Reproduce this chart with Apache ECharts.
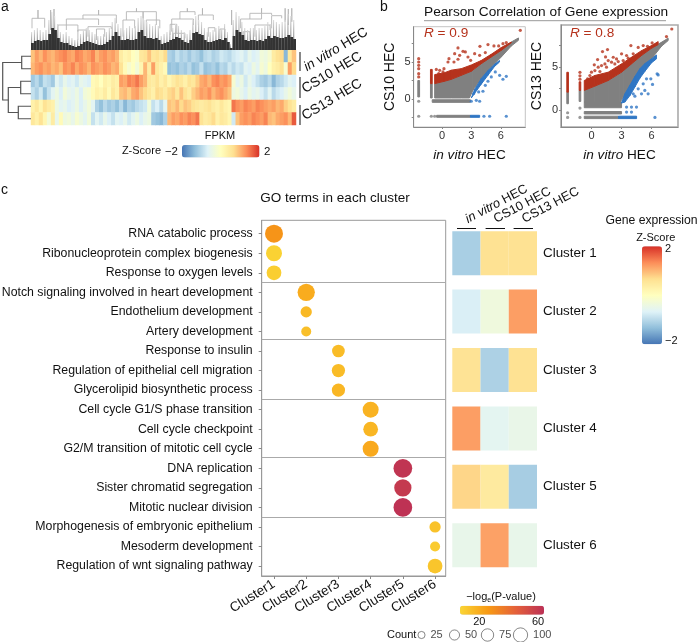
<!DOCTYPE html>
<html><head><meta charset="utf-8">
<style>html,body{margin:0;padding:0;background:#fff}#c{width:698px;height:642px}</style>
<script src="https://cdn.jsdelivr.net/npm/echarts@6/dist/echarts.min.js"></script>
</head><body><div id="c"></div>
<script>
const FONT='"Liberation Sans",Arial,sans-serif';
const zColors=['#4575b4','#91bfdb','#e0f3f8','#ffffbf','#fee090','#fc8d59','#d73027'];
const pColors=['#FAD535','#F89A14','#E4603A','#BC3055'];

/* ---------- panel a ---------- */
const heatRows=['in vitro 1','in vitro 2','CS10 1','CS10 2','CS13 1','CS13 2'];
const heatR1=[0.9,1.2,1.0,1.3,1.1,1.0,1.2,1.3,1.4,1.2,1.1,1.4,1.3,1.1,1.2,1.4,1.0,1.2,1.3,1.1,1.2,1.0,0.4,0.2,0.3,0.0,-0.1,0.5,0.6,0.9,0.5,0.6,0.4,0.7,-1.1,-1.2,-0.9,-1.1,-1.0,-1.2,-1.0,-1.1,-1.3,-1.0,-0.9,-1.1,-1.0,-0.8,-0.9,-1.0,-0.8,-0.7,-0.6,-0.8,-0.5,-0.7,-0.6,-0.3,-0.4,-0.2,0.4,0.6,0.7,-1.4,0.5,0.9];
const heatR2=[1.0,1.2,1.3,1.1,1.2,1.0,1.1,0.9,1.3,1.2,1.4,1.1,1.3,1.2,1.0,1.3,1.2,1.1,1.3,1.2,1.0,1.1,0.6,0.1,-0.2,0.0,-0.3,0.2,1.0,0.4,1.2,0.5,0.3,0.1,-1.3,-1.2,-1.3,-1.1,-1.2,-1.0,-1.3,-1.2,-0.9,-1.3,-1.2,-1.1,-1.3,-1.0,-1.1,-0.8,-1.0,-0.8,-0.9,-0.6,-0.7,-0.4,-0.6,-0.2,-0.4,0.0,0.3,0.4,0.6,-0.2,1.2,0.7];
const heatR3=[-1.2,-1.0,-1.3,-0.9,-1.0,-1.2,-0.6,-0.8,-0.5,-0.7,-0.6,-0.8,-0.5,-0.6,-0.7,0.1,0.2,0.0,0.3,0.2,0.4,0.3,1.2,1.1,1.4,1.3,1.5,1.2,1.0,0.5,0.4,0.6,0.3,0.5,0.2,0.4,0.6,0.5,0.3,0.6,0.5,0.8,1.1,1.2,1.0,1.3,1.4,1.2,1.3,1.1,-0.2,-0.6,-0.4,-0.8,-0.5,-0.7,-0.9,-1.1,-1.2,-1.0,-1.4,-1.1,-1.0,-0.8,-0.6,-0.7];
const heatR4=[-0.9,-1.1,-0.8,-1.3,-0.9,-0.6,-0.4,-0.7,-0.3,-0.5,-0.6,-0.4,-0.7,-0.3,-0.2,0.1,0.3,0.2,0.4,0.1,0.5,0.3,0.9,1.0,0.8,1.1,1.2,0.9,0.7,0.5,0.3,0.7,0.6,0.4,0.7,0.8,0.5,0.9,0.6,0.4,0.8,1.0,1.2,1.1,1.3,1.0,1.2,1.3,1.1,0.9,-0.4,-0.3,-0.5,-0.7,-0.4,-0.6,-0.5,-0.7,-0.9,-0.6,-1.0,-0.8,-0.7,-0.5,-0.3,-0.5];
const heatR5=[0.3,0.5,0.2,0.6,0.4,0.3,-0.4,-0.6,-0.5,-0.7,-0.6,-0.4,-0.7,-0.5,-0.3,-0.6,-1.1,-1.3,-1.0,-1.2,-1.1,-1.3,-1.0,-1.4,-1.1,-1.2,-1.0,-0.9,-0.8,-0.3,-0.9,-0.7,-1.0,-0.6,0.9,0.8,1.0,0.7,0.9,0.8,0.6,0.5,0.4,0.5,0.6,0.4,0.3,0.5,0.3,0.2,1.5,1.3,1.2,1.4,1.3,1.2,1.4,1.3,1.2,1.1,1.2,1.0,1.1,0.8,0.6,0.4];
const heatR6=[0.5,0.3,0.6,0.2,-0.3,0.4,-0.5,0.1,-0.4,-0.3,-0.5,-0.2,-0.4,-0.6,-0.3,-0.9,-0.6,-0.8,-0.5,-0.7,-0.9,-0.6,-0.7,-0.5,-0.8,-0.6,-0.4,-0.7,-0.5,-0.4,-1.2,-1.3,-1.4,-1.1,1.0,1.2,1.1,1.3,1.2,1.4,1.3,1.5,0.6,0.4,0.5,0.7,0.3,0.5,0.4,0.2,-0.8,0.9,1.2,1.3,1.2,1.4,1.3,1.2,1.4,1.0,0.9,1.1,1.2,1.3,1.0,1.7];
const rowDendro=[[0,1,9.3,0,0],[2,3,10.3,0,0],[4,5,12.7,0,0],[2.5,4.5,22.7,10.3,12.7],[0.5,3.5,28.3,9.3,22.7]];
const colDendro=[[0.38,5.16,31.7,21.7,22.3],[2.64,2.64,40,31.7,31.7],[7.4,7.4,40,20,20],[8.68,8.68,41,20,20],[13.34,25.5,31,20,25],[19.6,32.2,35,31,26.7],[25.5,25.5,40,35,35],[10.2,17.7,25,11.7,18.3],[21.5,30.3,23.3,13.3,21],[17.7,20.9,20,10,11.7],[24.7,27.8,21,10,13.3],[34.7,39.1,30,13.3,21.7],[36,42.3,38.3,30,31.7],[39.8,39.8,41.7,38.3,38.3],[42.3,47.3,38.3,20,25],[43.5,48.6,30,15,21.7],[53.1,61.3,31,18.3,25],[56.2,61.9,38.3,31,35],[59,59,41.7,38.3,38.3],[63.15,68.8,35,25,30],[64.7,64.7,41.7,35,35],[52.5,55,25.7,15,16.7],[53.7,58.1,16.7,10,11.7],[66.9,69.4,22.3,13.3,18.3],[71.3,73.2,21,11.7,11.7],[79.1,87,31,21.7,36.7],[87,87,41.7,36.7,36.7],[82.6,90.8,36.7,31,35],[84.5,90.2,25,13.3,20],[80.1,82.6,18.3,8.3,10],[90.8,94.6,34.3,21.7,31.7],[75.7,75.7,40,25,25],[95.9,95.9,41.7,28.3,28.3],[97.1,97.1,41,25,25],[98.4,98.4,41.7,28.3,28.3]];
const dendroDark=[7,9,10,9,10,10,16,22,20,12,8,7,7,5,4,3,4,6,8,9,8,7,6,5,5,6,8,10,14,18,14,10,10,11,10,10,11,18,20,14,12,12,11,12,10,6,7,8,10,11,13,12,10,8,7,10,17,18,16,15,10,8,8,9,10,11,10,12,8,2,14,20,18,15,10,9,10,10,9,10,9,11,14,12,14,13,12,12,13,15,13,11];
const dendroHair=[18,20,22,20,18,20,30,38,34,26,18,16,18,14,12,10,12,16,20,22,20,18,16,14,14,16,18,22,28,32,26,22,20,22,24,22,24,32,34,30,28,26,24,26,24,14,16,18,20,22,26,24,20,18,16,20,30,34,30,28,22,18,18,20,22,24,22,26,18,6,30,38,34,28,22,20,22,22,20,22,22,24,28,26,30,28,26,28,30,36,34,30];

/* ---------- panel b: [x, low, high] envelopes and single points ---------- */
const s1GreyBand=[[-0.75,0.14,2.08],[0.95,0.14,2.66],[1.97,0.14,3.2],[2.8,0.14,3.65],[3.15,1.17,3.85],[4.0,2.75,4.77],[5.03,4.32,5.68],[6.05,5.68,6.58],[7.07,7.16,7.7],[7.8,7.93,8.25]];
const s1RedBand=[[-0.75,2.08,3.3],[0.25,2.4,3.55],[0.95,2.66,3.9],[1.97,3.2,4.1],[2.99,3.75,4.6],[4.0,4.77,5.2],[5.03,5.68,6.05],[6.05,6.58,6.95],[7.07,7.6,7.7]];
const s1BlueBand=[[2.99,0.14,0.14],[3.33,0.77,1.3],[4.0,2.0,2.75],[4.68,3.2,3.83],[5.36,4.4,4.7],[5.87,5.0,5.2]];
const s1GreyRows=[[[-1.0,-0.45,-0.1],[2.9,-0.45,-0.1]],[[-0.55,-2.47,-2.2],[2.9,-2.47,-2.2]],[[-2.47,0.28,2.5],[-2.29,0.28,2.5]],[[-1.18,0.14,2.08],[-1.0,0.14,2.08]]];
const s1RedCols=[[[-1.18,2.08,4.0],[-1.0,2.08,4.0]]];
const s1BlueRows=[[[2.9,-2.47,-2.2],[3.84,-2.47,-2.2]]];
const s1GreyDots=[[-2.38,-0.3],[-2.38,-2.33],[-1.09,-2.33],[-0.75,-2.33]];
const s1RedDots=[[7.99,9.28],[1.63,6.9],[3.87,7.12],[4.69,7.35],[0.71,5.45],[1.29,6.13],[2.14,6.45],[2.38,6.36],[1.8,5.9],[1.22,5.0],[1.63,5.37],[0.61,5.0],[2.65,5.68],[3.33,6.13],[3.84,5.9],[4.42,6.27],[5.3,7.17],[5.78,7.17],[6.22,7.48],[6.56,7.62],[2.92,5.23],[-0.24,3.88],[0.2,4.1],[-0.58,4.0],[-0.34,3.43],[0.1,3.66],[-2.38,5.45],[-2.38,5.0],[-2.38,4.55],[-2.38,4.1],[-2.38,3.43],[-2.38,2.98]];
const s1BlueDots=[[5.88,3.2],[6.56,3.07],[6.22,2.67],[5.44,3.66],[5.03,2.98],[4.69,2.4],[4.42,1.85],[4.18,1.05],[3.74,0.96],[3.5,-0.17],[3.84,-0.3],[2.99,-0.3],[3.23,0.73],[4.28,-2.33],[4.86,-2.33],[6.56,-2.33]];

const s2GreyBand=[[-0.72,0.95,2.3],[0.34,0.84,2.8],[1.67,0.84,3.45],[2.83,0.84,4.22],[3.16,1.53,4.6],[3.99,3.07,5.37],[4.99,4.6,6.34],[5.99,5.95,7.18],[6.98,7.41,7.87],[7.65,8.07,8.34]];
const s2RedBand=[[-0.72,2.3,3.45],[0.34,2.8,4.03],[1.67,3.45,4.41],[2.99,4.4,5.37],[3.99,5.37,6.14],[4.99,6.34,6.9],[5.99,7.18,7.49],[6.65,7.6,7.95]];
const s2BlueBand=[[2.99,0.84,0.84],[3.33,0.95,1.9],[3.83,1.7,2.9],[4.33,2.7,3.9],[4.82,3.7,4.8],[5.32,4.5,5.4],[5.99,5.5,5.95],[6.48,5.95,6.4]];
const s2GreyRows=[[[-0.72,0.3,0.95],[3.0,0.3,0.95]],[[-0.72,-0.42,-0.14],[3.0,-0.42,-0.14]],[[-0.72,-0.96,-0.68],[2.7,-0.96,-0.68]],[[-2.46,0.76,2.1],[-2.3,0.76,2.1]],[[-1.23,1.03,2.3],[-1.07,1.03,2.3]]];
const s2RedCols=[[[-2.46,2.1,4.4],[-2.3,2.1,4.4]],[[-1.23,2.3,3.3],[-1.07,2.3,3.3]]];
const s2BlueRows=[[[2.7,-0.96,-0.68],[4.5,-0.96,-0.68]]];
const s2GreyDots=[[-2.38,-0.28],[-2.38,-0.82],[-1.15,-0.82],[-1.15,0.26]];
const s2RedDots=[[8.01,9.41],[1.6,7.03],[1.1,6.8],[1.4,6.18],[0.61,5.87],[0.28,5.26],[1.0,5.18],[1.67,5.76],[2.17,6.14],[2.5,5.95],[3.0,6.53],[3.93,7.49],[4.66,7.28],[5.16,7.49],[5.59,7.41],[6.05,7.8],[7.48,8.53],[0.67,4.99],[1.34,5.37],[2.0,5.57],[2.67,5.64],[3.5,6.34],[4.16,6.53],[-0.16,4.03],[0,4.41],[-0.39,3.64],[0.34,4.6],[0.84,4.49],[1.5,4.99],[2.33,5.37],[3.16,5.76],[3.66,6.03],[-1.15,4.4],[-1.15,4.0],[-1.15,3.6]];
const s2BlueDots=[[6.55,4.22],[6.65,4.1],[5.92,3.64],[6.09,2.99],[5.32,2.3],[5.65,1.91],[4.99,1.91],[4.66,2.49],[5.16,3.07],[5.49,3.64],[4.33,1.64],[3.5,0.38],[3.99,0.38],[4.49,0.38],[3.5,-0.2],[3.99,-0.2],[4.16,1.91],[6.33,-0.82]];

/* ---------- panel c ---------- */
const goTerms=['RNA catabolic process','Ribonucleoprotein complex biogenesis','Response to oxygen levels','Notch signaling involved in heart development','Endothelium development','Artery development','Response to insulin','Regulation of epithelial cell migration','Glycerolipid biosynthetic process','Cell cycle G1/S phase transition','Cell cycle checkpoint','G2/M transition of mitotic cell cycle','DNA replication','Sister chromatid segregation','Mitotic nuclear division','Morphogenesis of embryonic epithelium','Mesoderm development','Regulation of wnt signaling pathway'];
const clusterTicks=['Cluster1','Cluster2','Cluster3','Cluster4','Cluster5','Cluster6'];
const goCluster=[0,0,0,1,1,1,2,2,2,3,3,3,4,4,4,5,5,5];
const goCount=[158,125,106,146,62,49,79,86,86,125,106,125,171,146,171,62,49,106];
const goLogP=[28,8,9,20,16,14,15,15,17,18,17,21,62,60,63,13,10,12];
const goDividers=[2.47,5.4,8.47,11.44,14.53];
const sampleNames=['in vitro HEC','CS10 HEC','CS13 HEC'];
const clusterNames=['Cluster 1','Cluster 2','Cluster 3','Cluster 4','Cluster 5','Cluster 6'];
const clusterZ=[[-1.13,0.62,0.62],[-0.72,-0.35,1.2],[0.6,-1.1,0.62],[1.2,-0.58,-0.48],[0.75,0.45,-1.15],[-0.5,1.17,-0.5]];
const countLegend=[25,50,75,100];

const sizeOf=c=>1.43*Math.sqrt(c);
const grid=[],xAxis=[],yAxis=[],series=[],visualMap=[];
function addGrid(g,x,y){grid.push(Object.assign({containLabel:false,outerBoundsMode:'none'},g));x.gridIndex=grid.length-1;y.gridIndex=grid.length-1;xAxis.push(x);yAxis.push(y);return grid.length-1;}
const off={show:false};
const noLine={show:false,onZero:false};
const frameLine={show:true,onZero:false,lineStyle:{color:'#999',width:1}};
const hidden=(o)=>Object.assign({axisLine:noLine,axisTick:off,axisLabel:off,splitLine:off},o);
const txt=(size,c)=>({fontFamily:FONT,fontSize:size,color:c||'#111'});

/* heatmap a */
let gi=addGrid({left:31,top:50,width:265,height:75},hidden({type:'category',data:heatR1.map((_,i)=>i)}),hidden({type:'category',inverse:true,data:heatRows}));
const heatData=[];[heatR1,heatR2,heatR3,heatR4,heatR5,heatR6].forEach((r,j)=>r.forEach((v,i)=>heatData.push([i,j,v])));
series.push({type:'heatmap',xAxisIndex:gi,yAxisIndex:gi,data:heatData,silent:true,progressive:0});
visualMap.push({type:'continuous',seriesIndex:series.length-1,dimension:2,min:-2,max:2,inRange:{color:zColors},orient:'horizontal',left:182,top:145,itemWidth:12.5,itemHeight:77.5,padding:0,calculable:false,showLabel:false,text:null,hoverLink:false});

/* column dendrogram */
gi=addGrid({left:31,top:8,width:265,height:42},hidden({type:'category',data:dendroDark.map((_,i)=>i)}),hidden({type:'value',min:0,max:42}));
series.push({type:'bar',xAxisIndex:gi,yAxisIndex:gi,data:dendroHair,barWidth:'40%',barGap:'-100%',silent:true,itemStyle:{color:new echarts.graphic.LinearGradient(0,0,0,1,[{offset:0,color:'#ddd'},{offset:0.55,color:'#999'},{offset:1,color:'#444'}])}});
series.push({type:'bar',xAxisIndex:gi,yAxisIndex:gi,data:dendroDark,barWidth:'100%',barGap:'-100%',silent:true,itemStyle:{color:'#333'}});
gi=addGrid({left:31,top:8,width:265,height:42},hidden({type:'value',min:0,max:100}),hidden({type:'value',min:0,max:42}));
series.push({type:'custom',xAxisIndex:gi,yAxisIndex:gi,data:colDendro,silent:true,encode:{x:[0,1],y:[2,3,4]},renderItem(p,api){
  const a=api.value(0),b=api.value(1),t=api.value(2),l=api.value(3),r=api.value(4);
  const P=[api.coord([a,l]),api.coord([a,t]),api.coord([b,t]),api.coord([b,r])];
  return {type:'polyline',shape:{points:P},style:{stroke:'#b5b5b5',fill:null,lineWidth:0.9}};
}});

/* row dendrogram */
gi=addGrid({left:1,top:50,width:30,height:75},hidden({type:'value',min:0,max:30,inverse:true}),hidden({type:'value',min:-0.5,max:5.5,inverse:true}));
series.push({type:'custom',xAxisIndex:gi,yAxisIndex:gi,data:rowDendro,silent:true,encode:{y:[0,1],x:[2,3,4]},renderItem(p,api){
  const a=api.value(0),b=api.value(1),h=api.value(2),l=api.value(3),r=api.value(4);
  const P=[api.coord([l,a]),api.coord([h,a]),api.coord([h,b]),api.coord([r,b])];
  return {type:'polyline',shape:{points:P},style:{stroke:'#555',fill:null,lineWidth:1.2}};
}});

/* scatter panels */
function band(rows,color,g){
  const d=[];for(let i=0;i<rows.length-1;i++)d.push(rows[i].concat(rows[i+1]));
  series.push({type:'custom',xAxisIndex:g,yAxisIndex:g,data:d,silent:true,encode:{x:[0,3],y:[1,2,4,5]},renderItem(p,api){
    const P=[api.coord([api.value(0),api.value(1)]),api.coord([api.value(0),api.value(2)]),api.coord([api.value(3),api.value(5)]),api.coord([api.value(3),api.value(4)])];
    return {type:'polygon',shape:{points:P},style:{fill:color,stroke:color,lineWidth:1}};
  }});
}
function dots(d,color,g){series.push({type:'scatter',xAxisIndex:g,yAxisIndex:g,data:d,symbolSize:3.2,silent:true,itemStyle:{color}});}
const GREY='#808080',RED='#B5321C',BLUE='#2F76C4';
function scatterPanel(o){
  const axisC='#888';
  const g=addGrid({left:o.left,top:o.top,width:o.w,height:o.h,show:true,borderColor:o.border,borderWidth:o.bw,backgroundColor:'transparent'},
   {type:'value',min:o.xmin,max:o.xmax,splitLine:off,axisLine:{show:true,onZero:false,lineStyle:{color:axisC}},axisTick:{show:true,length:2,customValues:[0,3,6],lineStyle:{color:axisC}},axisLabel:{customValues:[0,3,6],margin:3,...txt(11,'#333')},
    name:'{i|in vitro} HEC',nameLocation:'middle',nameGap:21,nameTextStyle:{...txt(13.6),rich:{i:{...txt(13.6),fontStyle:'italic'}}}},
   {type:'value',min:o.ymin,max:o.ymax,splitLine:off,axisLine:{show:true,onZero:false,lineStyle:{color:axisC}},axisTick:{show:true,length:2,customValues:o.yTicks,lineStyle:{color:axisC}},axisLabel:{customValues:[0,5],margin:3,...txt(11,'#333')},
    name:o.yName,nameLocation:'middle',nameGap:17,nameTextStyle:txt(14)});
  band(o.grey,GREY,g);o.greyRows.forEach(r=>band(r,GREY,g));
  band(o.red,RED,g);o.redCols.forEach(r=>band(r,RED,g));
  band(o.blue,BLUE,g);o.blueRows.forEach(r=>band(r,BLUE,g));
  dots(o.gd,GREY,g);dots(o.rd,RED,g);dots(o.bd,BLUE,g);
}
scatterPanel({left:413.7,top:26.7,w:111.6,h:100.3,border:'#c4c4c4',bw:1,xmin:-2.89,xmax:8.5,ymin:-3.78,ymax:9.77,yTicks:[-2.5,0,2.5,5,7.5],yName:'CS10 HEC',grey:s1GreyBand,greyRows:s1GreyRows,red:s1RedBand,redCols:s1RedCols,blue:s1BlueBand,blueRows:s1BlueRows,gd:s1GreyDots,rd:s1RedDots,bd:s1BlueDots});
scatterPanel({left:561,top:25,w:117,h:102,border:'#aaa',bw:1.6,xmin:-3.04,xmax:8.63,ymin:-1.93,ymax:9.87,yTicks:[0,2.5,5,7.5],yName:'CS13 HEC',grey:s2GreyBand,greyRows:s2GreyRows,red:s2RedBand,redCols:s2RedCols,blue:s2BlueBand,blueRows:s2BlueRows,gd:s2GreyDots,rd:s2RedDots,bd:s2BlueDots});

/* dot plot */
gi=addGrid({left:261.7,top:220.3,width:184,height:355.7,show:true,borderColor:'#999',borderWidth:1,backgroundColor:'transparent'},
 {type:'value',min:-0.382,max:5.33,splitLine:off,axisLine:frameLine,axisTick:{show:true,length:3,customValues:[0,1,2,3,4,5],lineStyle:{color:'#888'}},axisLabel:{customValues:[0,1,2,3,4,5],rotate:32,margin:7,formatter:v=>clusterTicks[v],...txt(13.5)}},
 {type:'value',inverse:true,min:-0.685,max:17.51,splitLine:off,axisLine:frameLine,axisTick:{show:true,length:3,customValues:goTerms.map((_,i)=>i),lineStyle:{color:'#888'}},axisLabel:{customValues:goTerms.map((_,i)=>i),margin:9,formatter:v=>goTerms[v],...txt(12.3)}});
series.push({type:'scatter',xAxisIndex:gi,yAxisIndex:gi,silent:true,data:goTerms.map((_,i)=>[goCluster[i],i,goLogP[i],goCount[i]]),symbolSize:d=>sizeOf(d[3]),itemStyle:{opacity:1},encode:{x:0,y:1},
 markLine:{silent:true,symbol:'none',label:off,lineStyle:{color:'#aaa',type:'solid',width:1},animation:false,data:goDividers.map(v=>({yAxis:v}))}});
visualMap.push({type:'continuous',seriesIndex:series.length-1,dimension:2,min:6.9,max:63.9,inRange:{color:pColors},orient:'horizontal',left:460,top:605.7,itemWidth:9,itemHeight:84,padding:0,calculable:false,showLabel:false,text:null,hoverLink:false});

/* cluster z heat */
gi=addGrid({left:452.3,top:224,width:84.7,height:350.4},
 {type:'category',position:'top',data:sampleNames,axisLine:off,axisTick:off,splitLine:off,axisLabel:{rotate:-28,margin:4,interval:0,formatter:v=>v.startsWith('in vitro')?'{i|in vitro} HEC':v,...txt(12.8),rich:{i:{...txt(12.8),fontStyle:'italic'}}}},
 {type:'category',position:'right',inverse:true,data:clusterNames,axisLine:off,axisTick:off,splitLine:off,axisLabel:{margin:6,...txt(13.4)}});
const zData=[];clusterZ.forEach((r,j)=>r.forEach((v,i)=>zData.push([i,j,v])));
series.push({type:'custom',xAxisIndex:gi,yAxisIndex:gi,data:zData,silent:true,encode:{x:0,y:1},renderItem(p,api){
  const c=api.coord([api.value(0),api.value(1)]),s=api.size([1,1]),h=s[1]*0.753;
  return {type:'rect',shape:{x:c[0]-s[0]/2,y:c[1]-h/2,width:s[0],height:h},style:{fill:api.visual('color')}};
}});
visualMap.push({type:'continuous',seriesIndex:series.length-1,dimension:2,min:-2,max:2,inRange:{color:zColors},orient:'vertical',left:642,top:246.3,itemWidth:20,itemHeight:98,padding:0,calculable:false,showLabel:false,text:null,hoverLink:false});

/* count legend */
gi=addGrid({left:405,top:625,width:132,height:20},hidden({type:'category',data:countLegend}),hidden({type:'value',min:-1,max:1}));
series.push({type:'scatter',xAxisIndex:gi,yAxisIndex:gi,silent:true,data:countLegend.map(c=>[String(c),0,c]),symbolSize:d=>sizeOf(d[2]),itemStyle:{color:'#fff',borderColor:'#444',borderWidth:0.8},
 label:{show:true,position:'right',distance:5,formatter:p=>p.data[2],...txt(11,'#222')}});

/* free text */
const T=(x,y,text,o={})=>({type:'text',x,y,rotation:o.rot||0,silent:true,z:20,style:{text,fontFamily:FONT,fontSize:o.size||12,fill:o.color||'#111',textAlign:o.align||'left',textVerticalAlign:'middle',verticalAlign:'middle',rich:o.rich}});
const L=(x1,y1,x2,y2,c,w)=>({type:'line',silent:true,z:20,shape:{x1,y1,x2,y2},style:{stroke:c,lineWidth:w}});
const itRich=s=>({i:{fontFamily:FONT,fontSize:s,fontStyle:'italic',fill:'#111'}});
const redRich={i:{fontFamily:FONT,fontSize:13.6,fontStyle:'italic',fill:RED}};
const graphic=[
 T(1,7,'a',{size:14}),T(380,7,'b',{size:14}),T(1,190,'c',{size:14}),
 T(305,68,'{i|in vitro} HEC',{size:13.5,rot:0.54,rich:itRich(13.5)}),
 T(303,90,'CS10 HEC',{size:13.8,rot:0.54}),
 T(303,117,'CS13 HEC',{size:13.8,rot:0.54}),
 L(300,52,300,71,'#111',1),L(300,77,300,98,'#111',1),L(300,105,300,125,'#111',1),
 T(220,136,'FPKM',{align:'center',size:11}),T(161,151,'Z-Score',{align:'right',size:11}),T(178,152,'\u22122',{align:'right',size:11.5}),T(264,152,'2',{size:11.5}),
 T(424,12.5,'Pearson Correlation of Gene expression',{size:13.7}),L(424,20.7,666,20.7,'#999',1),
 T(424,33,'{i|R} = 0.9',{size:13.6,color:RED,rich:redRich}),T(570,33,'{i|R} = 0.8',{size:13.6,color:RED,rich:redRich}),
 T(335,198,'GO terms in each cluster',{align:'center',size:13.5}),
 L(457,228.5,476,228.5,'#111',1),L(485.6,228.5,505,228.5,'#111',1),L(513.6,228.5,533,228.5,'#111',1),
 T(605.5,221,'Gene expression',{size:12.2}),T(655.7,237.7,'Z-Score',{align:'center',size:11}),
 T(665,249,'2',{size:11}),T(665,341,'\u22122',{size:11}),
 T(501,597,'\u2212log{s|e}(P-value)',{align:'center',size:11,rich:{s:{fontFamily:FONT,fontSize:7,verticalAlign:'bottom',padding:[6,0,0,0],fill:'#111'}}}),
 T(479.3,621.7,'20',{align:'center',size:11}),T(538,621.7,'60',{align:'center',size:11}),
 T(387,635,'Count',{size:11})
];

const chart=echarts.init(document.getElementById('c'),null,{renderer:'canvas'});
chart.setOption({animation:false,backgroundColor:'#fff',textStyle:{fontFamily:FONT},tooltip:{show:false},grid,xAxis,yAxis,visualMap,series,graphic});
</script></body></html>
